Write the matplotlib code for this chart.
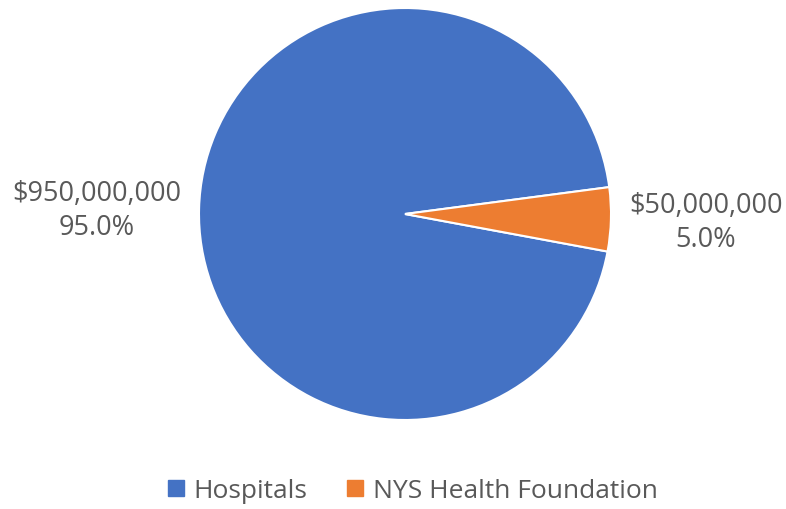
import matplotlib.pyplot as plt
from matplotlib.lines import Line2D

plt.rcParams['font.family'] = ['Open Sans', 'DejaVu Sans']

# Data
categories = ['Hospitals', 'NYS Health Foundation']
amounts = [950000000, 50000000]
colors = ['#4472C4', '#ED7D31']
text_color = '#595959'

W, H = 786, 510
fig = plt.figure(figsize=(W / 100, H / 100), dpi=100)

# pie placement in pixels
cx, cy, r = 405, 215, 206
ax = fig.add_axes([(cx - r) / W, (H - cy - r) / H, 2 * r / W, 2 * r / H])
ax.pie(amounts, colors=colors, startangle=7.5, counterclock=True,
       wedgeprops=dict(edgecolor='white', linewidth=1.5))
ax.set_xlim(-1, 1)
ax.set_ylim(-1, 1)
ax.set_aspect('equal')

total = sum(amounts)
label_pos = [((97 - cx) / r, (cy - 211) / r), ((706 - cx) / r, (cy - 223) / r)]
for amt, (lx, ly) in zip(amounts, label_pos):
    ax.text(lx, ly, f'${amt:,.0f}\n{amt / total * 100:.1f}%', ha='center', va='center',
            fontsize=19.5, color=text_color, linespacing=1.3, clip_on=False)

handles = [Line2D([], [], marker='s', linestyle='', markersize=11, color=c) for c in colors]
fig.legend(handles, categories, loc='center', bbox_to_anchor=(410 / W, 1 - 492 / H),
           ncol=2, frameon=False, fontsize=19, labelcolor=text_color,
           handletextpad=0.17, columnspacing=1.3, handlelength=1.0)

fig.savefig('out.png', dpi=100)
